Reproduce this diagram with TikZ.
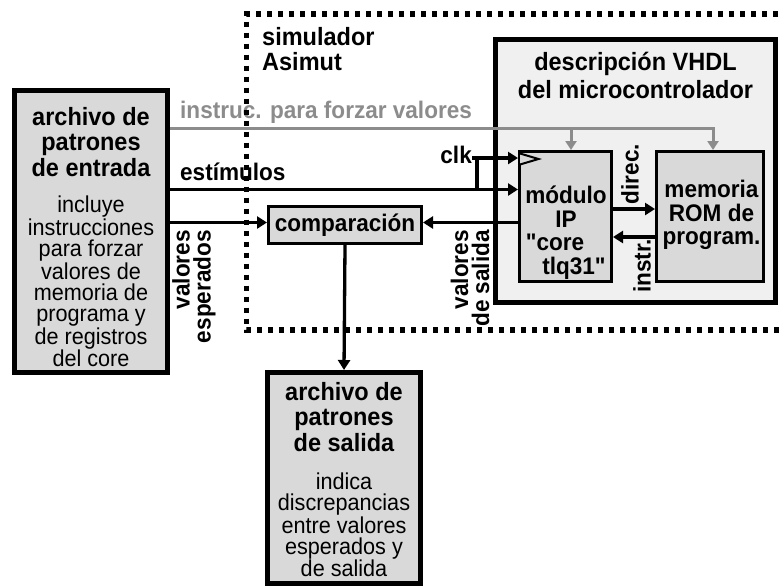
\documentclass[tikz,border=0pt]{standalone}
\usepackage{fontspec}
\setmainfont{Liberation Sans}[FakeStretch=0.94]
\newfontfamily\qfont{Liberation Sans}[FakeStretch=0.94]
\usetikzlibrary{arrows.meta,calc}
\definecolor{boxgray}{HTML}{D9D9D9}
\definecolor{lightfill}{HTML}{F0F0F0}
\definecolor{sigray}{HTML}{8C8C8C}
\newcommand{\sq}{{\qfont\bfseries"}}
\begin{document}
\begin{tikzpicture}[x=1pt,y=-1pt,
  thickbox/.style={draw=black,line width=5pt,fill=boxgray,inner sep=0pt},
  thinbox/.style={draw=black,line width=3.3pt,fill=boxgray,inner sep=0pt},
  wire/.style={line width=3.3pt,draw=black},
  arr/.style={wire,-{Triangle[length=10pt,width=12pt]}},
  garr/.style={line width=3pt,draw=sigray,-{Triangle[length=9pt,width=11pt]}},
  lbl/.style={font=\fontsize{24pt}{21pt}\selectfont\bfseries,inner sep=0pt},
  titletext/.style={font=\fontsize{25pt}{25.5pt}\selectfont\bfseries,inner sep=0pt,align=center},
  bodytext/.style={font=\fontsize{23pt}{21.3pt}\selectfont,inner sep=0pt,align=center},
  innertext/.style={font=\fontsize{24pt}{23.5pt}\selectfont\bfseries,inner sep=0pt,align=center},
  dotframe/.style={line width=5.5pt,dash pattern=on 5pt off 6pt}
]
\useasboundingbox (0,0) rectangle (783,587);
\clip (0,0) rectangle (783,587);

% boxes
\node[thickbox,minimum width=153.5pt,minimum height=282.5pt] (in) at (91,231.5) {};
\node[thickbox,fill=lightfill,minimum width=280pt,minimum height=263pt] (vhdl) at (635.5,171) {};
\node[thinbox,minimum width=91.7pt,minimum height=129.7pt] (mod) at (565.5,216.5) {};
\node[thinbox,minimum width=106.7pt,minimum height=129.7pt] (mem) at (710,216.5) {};
\node[thinbox,minimum width=152.7pt,minimum height=36.7pt,font=\fontsize{24pt}{23.5pt}\selectfont\bfseries] (comp) at (345,225) {comparación};
\node[thickbox,minimum width=153pt,minimum height=211pt] (out) at (344,478) {};

% texts inside boxes
\node[titletext,anchor=north] (intitle) at (91,107) {archivo de\\patrones\\de entrada};
\node[bodytext,anchor=north] (inbody) at (91,196) {incluye\\instrucciones\\para forzar\\valores de\\memoria de\\programa y\\de registros\\del core};
\node[titletext,anchor=north west,align=left] (sim) at (262,27) {simulador\\Asimut};
\node[titletext,anchor=north,font=\fontsize{25pt}{28pt}\selectfont\bfseries] (vhdltitle) at (635.5,52) {descripción VHDL\\del microcontrolador};
\node[innertext,anchor=north] (modtext) at (566,186) {módulo\\IP\\\sq core\rule{22pt}{0pt}\\\rule{16pt}{0pt}tlq31\sq};
\node[innertext,anchor=north] (memtext) at (711.5,180) {memoria\\ROM de\\program.};
\node[titletext,anchor=north] (outtitle) at (344,382) {archivo de\\patrones\\de salida};
\node[bodytext,anchor=north] (outbody) at (344,472.5) {indica\\discrepancias\\entre valores\\esperados y\\de salida};

% clock triangle
\draw[line width=2pt,fill=boxgray] (520,153.5) -- (538.5,159) -- (520,164.5);

% labels
\node[lbl,text=sigray,anchor=base west] (instrlbl) at (180,118.5) {instruc. para forzar valores};
\node[lbl,anchor=base west] (estlbl) at (180,180.5) {estímulos};
\node[lbl,anchor=base east] (clk) at (472,163.5) {clk};
\node[lbl,rotate=90,anchor=east,align=right] (ve) at (194,230) {valores\\esperados};
\node[lbl,rotate=90,anchor=east,align=right] (vs) at (470,230) {valores\\de salida};
\node[lbl,rotate=90] (direc) at (630,174) {direc.};
\node[lbl,rotate=90] (instr) at (642,266) {instr.};

% coordinates
\coordinate (gy) at (0,128.3);
\coordinate (esy) at (0,189.5);
\coordinate (clkj) at (477,158);
\coordinate (vey) at (0,222.5);
\coordinate (diry) at (0,209);
\coordinate (insy) at (0,237);
\coordinate (memin) at ($(mem.north)+(3,0)$);
\coordinate (modin) at ($(mod.north)+(5.5,0)$);

% gray connectors
\draw[garr] (in.east |- gy) -- (memin |- gy) -- (memin);
\draw[garr] (modin |- gy) -- (modin);

% black connectors
\draw[arr] (in.east |- esy) -- (mod.west |- esy);
\draw[wire] (clkj) -- (clkj |- esy);
\draw[arr] (clk.east |- clkj) -- (mod.west |- clkj);
\draw[arr] (in.east |- vey) -- (comp.west |- vey);
\draw[arr] (mod.west |- vey) -- (comp.east |- vey);
\draw[arr] (mod.east |- diry) -- (mem.west |- diry);
\draw[arr] (mem.west |- insy) -- (mod.east |- insy);
\draw[arr] (comp.south) -- (out.north);

% simulator frame
\draw[dotframe] (800,14) -- (246.5,14) -- (246.5,330) -- (800,330);
\end{tikzpicture}
\end{document}
